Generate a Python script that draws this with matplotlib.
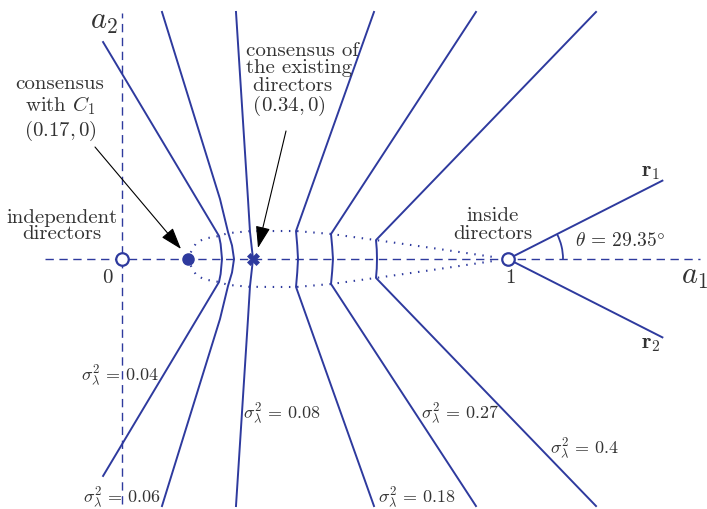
import numpy as np
import matplotlib
matplotlib.use('Agg')
import matplotlib.pyplot as plt
from matplotlib.patches import Arc

plt.rcParams['font.family'] = 'cmr10'
plt.rcParams['mathtext.fontset'] = 'cm'
plt.rc('axes', unicode_minus=False)

BLUE = '#2e3a9e'
TXT = '#333333'

# level curves (upper half, mirrored below the a1 axis)
sigma_labels = ['0.04', '0.06', '0.08', '0.18', '0.27', '0.4']
curve_x = [
    [-0.049, 0.2513, 0.2555, 0.2591],
    [0.1036, 0.2539, 0.2746, 0.2850, 0.2902],
    [0.2953, 0.3264, 0.3316, 0.3394],
    [0.6528, 0.4508, 0.4540, 0.4560],
    [0.9170, 0.5415, 0.5445, 0.5466],
    [1.2280, 0.6580, 0.6600, 0.6606],
]
curve_y = [
    [0.562, 0.0596, 0.0389, 0.0],
    [0.640, 0.1554, 0.0700, 0.0350, 0.0],
    [0.640, 0.1550, 0.0700, 0.0],
    [0.640, 0.0725, 0.0350, 0.0],
    [0.640, 0.0648, 0.0320, 0.0],
    [0.640, 0.0490, 0.0250, 0.0],
]

# locus of the kinks (dotted)
locus_x = [0.178, 0.193, 0.215, 0.2513, 0.2746, 0.33, 0.40, 0.4508, 0.5415, 0.658, 0.80, 0.97]
locus_y = [0.017, 0.043, 0.053, 0.0596, 0.067, 0.072, 0.0725, 0.0725, 0.0648, 0.049, 0.029, 0.004]

consensus_c1 = 0.17
consensus_existing = 0.34
theta_deg = 29.35
ray_end = (1.40, 0.203)

# pixel -> data helper for placing annotations
S = 386.0
def P(px, py):
    return ((px - 122) / S, (260 - py) / S)

fig = plt.figure(figsize=(7.07, 5.10), dpi=100)
ax = fig.add_axes([0, 0, 1, 1])
ax.set_xlim(-122 / S, (707 - 122) / S)
ax.set_ylim(-250 / S, 260 / S)
ax.axis('off')

# axes
ax.plot([-0.20, 1.497], [0, 0], color=BLUE, lw=1.0, ls=(0, (6, 4)))
ax.plot([0, 0], [-0.635, 0.637], color=BLUE, lw=1.0, ls=(0, (6, 4)))

# curves
for xs, ys in zip(curve_x, curve_y):
    xs = np.array(xs)
    ys = np.array(ys)
    X = np.concatenate([xs, xs[::-1][1:]])
    Y = np.concatenate([ys, -ys[::-1][1:]])
    ax.plot(X, Y, color=BLUE, lw=1.4, solid_joinstyle='round')

lx = np.array(locus_x)
ly = np.array(locus_y)
ax.plot(lx, ly, color=BLUE, lw=1.5, ls=(0, (0.7, 3.2)), dash_capstyle='butt')
ax.plot(lx, -ly, color=BLUE, lw=1.5, ls=(0, (0.7, 3.2)), dash_capstyle='butt')

# rays
ax.plot([1, ray_end[0]], [0, ray_end[1]], color=BLUE, lw=1.4)
ax.plot([1, ray_end[0]], [0, -ray_end[1]], color=BLUE, lw=1.4)
ang = np.degrees(np.arctan2(ray_end[1], ray_end[0] - 1))
ax.add_patch(Arc((1, 0), 0.285, 0.285, theta1=0, theta2=ang, color=BLUE, lw=1.3))

# points
ax.plot([0], [0], 'o', ms=9, mfc='white', mec=BLUE, mew=1.6, zorder=5)
ax.plot([1], [0], 'o', ms=9, mfc='white', mec=BLUE, mew=1.6, zorder=5)
ax.plot([consensus_c1], [0], 'o', ms=8, color=BLUE, zorder=5)
ax.plot([consensus_existing], [0], 'X', ms=8, color=BLUE, mew=0.5, zorder=5)

fs = 15
ax.text(*P(104, 22), '$a_2$', fontsize=22, color=TXT, ha='center', va='center')
ax.text(*P(695, 277), '$a_1$', fontsize=22, color=TXT, ha='center', va='center')
ax.text(*P(107, 278), '0', fontsize=fs, color=TXT, ha='center', va='center')
ax.text(*P(510, 278), '1', fontsize=fs, color=TXT, ha='center', va='center')
ax.text(*P(62, 226), 'independent\ndirectors', fontsize=fs, color=TXT,
        ha='center', va='center', linespacing=0.9)
ax.text(*P(60, 109), 'consensus\nwith $C_1$\n$(0.17,0)$', fontsize=fs, color=TXT,
        ha='center', va='center', linespacing=1.1)
ax.text(*P(246, 80), 'consensus of\nthe existing\n directors\n $(0.34,0)$', fontsize=fs,
        color=TXT, ha='left', va='center', linespacing=0.95)
ax.text(*P(493, 225), 'inside\ndirectors', fontsize=fs, color=TXT,
        ha='center', va='center', linespacing=0.95)
ax.text(*P(651, 172), r'$\mathbf{r}_1$', fontsize=fs + 1, color=TXT, ha='center', va='center')
ax.text(*P(651, 344), r'$\mathbf{r}_2$', fontsize=fs + 1, color=TXT, ha='center', va='center')
ax.text(*P(620, 241), r'$\theta\,=\,%.2f\degree$' % theta_deg, fontsize=14, color=TXT,
        ha='center', va='center')

label_pos = [(120, 375), (122, 497), (282, 413), (417, 497), (460, 413), (585, 448)]
for lab, (px, py) in zip(sigma_labels, label_pos):
    ax.text(*P(px, py), r'$\sigma_\lambda^2\,=\,%s$' % lab, fontsize=13, color=TXT,
            ha='center', va='center')

# arrows
aprops = dict(arrowstyle='-|>,head_length=0.9,head_width=0.3', color='black', lw=0.8,
              shrinkA=0, shrinkB=0, mutation_scale=15)
ax.annotate('', xy=P(181, 250), xytext=P(95, 148), arrowprops=aprops)
ax.annotate('', xy=P(258, 249), xytext=P(286, 132), arrowprops=aprops)

fig.savefig('out.png', dpi=100)
